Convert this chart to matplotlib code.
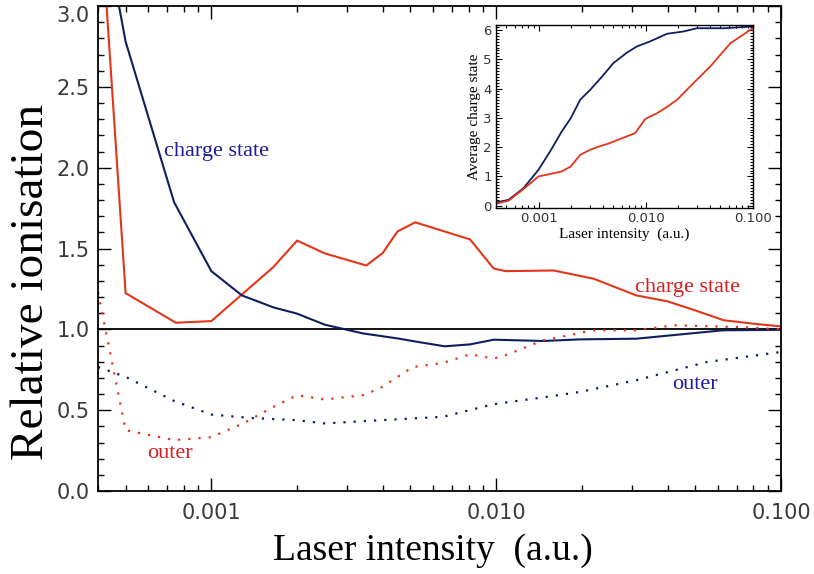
import matplotlib
matplotlib.use('Agg')
import matplotlib.pyplot as plt
from matplotlib.ticker import FixedLocator, LogLocator, MultipleLocator, NullFormatter

# main panel: relative ionisation vs laser intensity (a.u.)
red_cs_x = [4e-4, 5e-4, 7.5e-4, 1e-3, 1.65e-3, 2e-3, 2.5e-3, 3.5e-3, 4e-3, 4.5e-3, 5.2e-3,
            8.1e-3, 9.8e-3, 0.0108, 0.0159, 0.022, 0.031, 0.040, 0.050, 0.063, 0.080, 0.100]
red_cs_y = [3.80, 1.224, 1.041, 1.051, 1.385, 1.549, 1.47, 1.395, 1.473, 1.605, 1.662,
            1.556, 1.376, 1.36, 1.364, 1.313, 1.21, 1.173, 1.117, 1.056, 1.035, 1.018]

blue_cs_x = [4e-4, 5e-4, 7.4e-4, 1e-3, 1.28e-3, 1.65e-3, 2e-3, 2.5e-3, 3.4e-3, 4.5e-3, 5.4e-3,
             6.6e-3, 8.1e-3, 9.8e-3, 0.0146, 0.0197, 0.031, 0.0625, 0.100]
blue_cs_y = [3.70, 2.78, 1.786, 1.36, 1.21, 1.136, 1.097, 1.029, 0.975, 0.944, 0.92,
             0.895, 0.907, 0.936, 0.928, 0.938, 0.942, 0.994, 0.997]

red_outer_x = [4e-4, 5e-4, 7.4e-4, 1e-3, 1.3e-3, 1.65e-3, 2e-3, 2.5e-3, 3.4e-3, 3.9e-3, 5.1e-3,
               6.5e-3, 8.1e-3, 9.8e-3, 0.0108, 0.0146, 0.0197, 0.0214, 0.031, 0.042, 0.072, 0.100]
red_outer_y = [1.23, 0.376, 0.315, 0.333, 0.42, 0.52, 0.593, 0.566, 0.593, 0.634, 0.767,
               0.792, 0.846, 0.819, 0.84, 0.932, 0.977, 0.994, 0.994, 1.025, 1.014, 1.0]

blue_outer_x = [4e-4, 5e-4, 7.4e-4, 1e-3, 1.37e-3, 2e-3, 2.5e-3, 3.4e-3, 6.5e-3, 9.8e-3,
                0.015, 0.0197, 0.031, 0.055, 0.100]
blue_outer_y = [0.767, 0.706, 0.557, 0.473, 0.452, 0.438, 0.418, 0.432, 0.459, 0.537,
                0.582, 0.613, 0.685, 0.798, 0.86]

# inset: average charge state
ins_blue_x = [4e-4, 5.25e-4, 7.24e-4, 1e-3, 1.28e-3, 1.65e-3, 2e-3, 2.45e-3, 3.04e-3, 3.92e-3,
              5e-3, 6.7e-3, 8.3e-3, 0.011, 0.0158, 0.0226, 0.030, 0.054, 0.100]
ins_blue_y = [0.11, 0.2, 0.6, 1.23, 1.85, 2.54, 2.99, 3.62, 3.96, 4.41,
              4.87, 5.23, 5.44, 5.61, 5.87, 5.95, 6.06, 6.06, 6.12]

ins_red_x = [4e-4, 5.25e-4, 7.24e-4, 1e-3, 1.28e-3, 1.65e-3, 2e-3, 2.45e-3, 3.04e-3, 3.64e-3,
             4.5e-3, 5.8e-3, 8e-3, 9.9e-3, 0.0128, 0.0158, 0.0197, 0.026, 0.040, 0.062, 0.100]
ins_red_y = [0.07, 0.17, 0.57, 1.0, 1.08, 1.17, 1.34, 1.74, 1.91, 2.02,
             2.12, 2.28, 2.48, 2.96, 3.16, 3.37, 3.62, 4.07, 4.75, 5.55, 6.06]

x_ticks = [0.001, 0.01, 0.1]
x_ticklabels = ['0.001', '0.010', '0.100']
y_ticks = [0.0, 0.5, 1.0, 1.5, 2.0, 2.5, 3.0]

BLUE = '#0e1f5e'
RED = '#e2361a'
BLUE_TXT = '#1c1c9c'
RED_TXT = '#d81e1e'
DOTS = (0, (1, 3.6))
SERIF = 'Liberation Serif'

fig = plt.figure(figsize=(8.14, 5.74), dpi=100)
ax = fig.add_axes([0.1204, 0.1446, 0.8391, 0.8449])

ax.axhline(1.0, color='black', lw=1.3, zorder=1)
ax.plot(red_cs_x, red_cs_y, color=RED, lw=1.5)
ax.plot(blue_cs_x, blue_cs_y, color=BLUE, lw=1.5)
ax.plot(red_outer_x, red_outer_y, color=RED, lw=1.6, ls=DOTS)
ax.plot(blue_outer_x, blue_outer_y, color=BLUE, lw=1.6, ls=DOTS)

ax.set_xscale('log')
ax.set_xlim(4e-4, 0.1)
ax.set_ylim(0, 3.0)
ax.xaxis.set_major_locator(FixedLocator(x_ticks))
ax.set_xticklabels(x_ticklabels)
ax.xaxis.set_minor_locator(LogLocator(base=10, subs=range(2, 10)))
ax.xaxis.set_minor_formatter(NullFormatter())
ax.set_yticks(y_ticks)
ax.set_yticklabels([f'{v:.1f}' for v in y_ticks])
ax.yaxis.set_minor_locator(MultipleLocator(0.1))
ax.tick_params(which='both', direction='in', top=True, right=True, width=1.0)
ax.tick_params(which='major', length=9.5, labelsize=15, labelcolor='#3a3a3a')
ax.tick_params(which='minor', length=4.5)
ax.tick_params(axis='x', which='major', pad=9)
ax.tick_params(axis='y', which='major', pad=6)
# keep the top label inside the figure
ax.yaxis.get_major_ticks()[-1].label1.set_verticalalignment('top')
for s in ax.spines.values():
    s.set_linewidth(1.3)

ax.set_xlabel('Laser intensity  (a.u.)', family=SERIF, fontsize=27)
ax.set_ylabel('Relative ionisation', family=SERIF, fontsize=34)
ax.xaxis.set_label_coords(0.49, -0.088)
ax.yaxis.set_label_coords(-0.066, 0.431)

ax.text(6.8e-4, 2.07, 'charge state', color=BLUE_TXT, family=SERIF, fontsize=16)
ax.text(0.0308, 1.23, 'charge state', color=RED_TXT, family=SERIF, fontsize=16)
ax.text(5.95e-4, 0.205, 'outer', color=RED_TXT, family=SERIF, fontsize=16)
ax.text(0.0414, 0.628, 'outer', color=BLUE_TXT, family=SERIF, fontsize=16)

# inset
ins = fig.add_axes([0.6093, 0.6376, 0.3154, 0.3188])
ins.set_facecolor('white')
ins.plot(ins_blue_x, ins_blue_y, color=BLUE, lw=1.3)
ins.plot(ins_red_x, ins_red_y, color=RED, lw=1.3)
ins.set_xscale('log')
ins.set_xlim(4e-4, 0.1)
ins.set_ylim(-0.08, 6.17)
ins.xaxis.set_major_locator(FixedLocator(x_ticks))
ins.set_xticklabels(x_ticklabels)
ins.xaxis.set_minor_locator(LogLocator(base=10, subs=range(2, 10)))
ins.xaxis.set_minor_formatter(NullFormatter())
ins.yaxis.set_major_locator(MultipleLocator(1))
ins.yaxis.set_minor_locator(MultipleLocator(0.1))
ins.tick_params(which='both', direction='in', top=True, right=True, width=0.8)
ins.tick_params(which='major', length=4, labelsize=9.5, labelcolor='#333333', pad=3)
ins.tick_params(which='minor', length=2)
for s in ins.spines.values():
    s.set_linewidth(1.0)
ins.set_xlabel('Laser intensity  (a.u.)', family=SERIF, fontsize=11, labelpad=2)
ins.set_ylabel('Average charge state', family=SERIF, fontsize=11, labelpad=2)

fig.savefig('out.png', dpi=100)
